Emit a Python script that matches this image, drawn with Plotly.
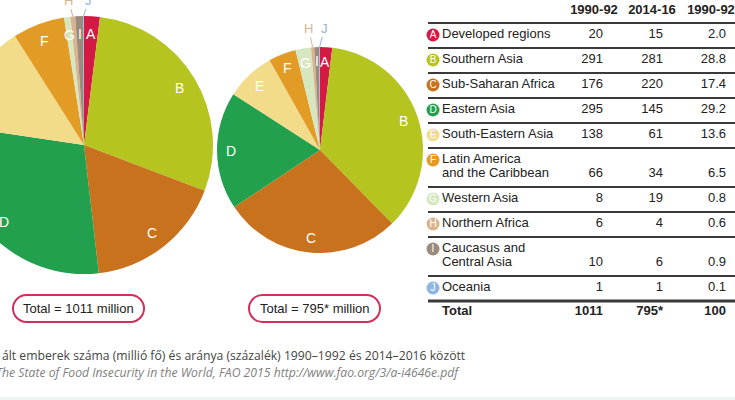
import math
import plotly.graph_objects as go

# data
letters = ['A', 'B', 'C', 'D', 'E', 'F', 'G', 'H', 'I', 'J']
regions = ['Developed regions', 'Southern Asia', 'Sub-Saharan Africa', 'Eastern Asia',
           'South-Eastern Asia', 'Latin America<br>and the Caribbean', 'Western Asia',
           'Northern Africa', 'Caucasus and<br>Central Asia', 'Oceania']
hungry_1990 = [20, 291, 176, 295, 138, 66, 8, 6, 10, 1]
hungry_2014 = [15, 281, 220, 145, 61, 34, 19, 4, 6, 1]
share_1990 = [2.0, 28.8, 17.4, 29.2, 13.6, 6.5, 0.8, 0.6, 0.9, 0.1]
col_headers = ['1990-92', '2014-16', '1990-92']
total_row = ['1011', '795*', '100']
pie_totals = ['Total = 1011 million', 'Total = 795* million']
outside_letters = ['H', 'J']
colors = ['#d31a45', '#b6c41f', '#c8721d', '#23a04e', '#f2dc8a',
          '#e29c26', '#d6e6bf', '#d9b38e', '#9a8b7e', '#8eb6e4']

caption = 'ált emberek száma (millió fő) és aránya (százalék) 1990–1992 és 2014–2016 között'
source = 'The State of Food Insecurity in the World, FAO 2015 http://www.fao.org/3/a-i4646e.pdf'

SHIFT = 50          # left part of the figure is pushed out of the window
W, H = 735 + SHIFT, 400
FONT = 'Liberation Sans, Arial, sans-serif'

fig = go.Figure()

# ---- pies (center x, center y, radius, lift of the outside labels)
pies = [(hungry_1990, 84, 145, 129, -42), (hungry_2014, 320, 150, 103, -19)]
annotations = []
shapes = []
for k, (vals, cx, cy, r, lift) in enumerate(pies):
    fig.add_trace(go.Pie(values=vals, labels=letters, sort=False, direction='clockwise', rotation=0,
                         marker=dict(colors=colors, line=dict(width=0)), textinfo='none',
                         hoverinfo='label+value', showlegend=False,
                         domain=dict(x=[(cx + SHIFT - r) / W, (cx + SHIFT + r) / W],
                                     y=[1 - (cy + r) / H, 1 - (cy - r) / H])))
    tot = sum(vals)
    cum = 0
    for lab, v, c in zip(letters, vals, colors):
        th = 2 * math.pi * (cum + v / 2) / tot
        cum += v
        if lab in outside_letters:
            annotations.append(dict(x=cx + r * math.sin(th), y=cy - r * math.cos(th), xref='x', yref='y',
                                    text=lab, showarrow=True, arrowhead=0, arrowwidth=1, arrowcolor=c,
                                    ax=-4 if lab == 'H' else 5, ay=lift, standoff=0,
                                    font=dict(family=FONT, size=13, color=c)))
        else:
            annotations.append(dict(x=cx + 0.86 * r * math.sin(th), y=cy - 0.86 * r * math.cos(th),
                                    xref='x', yref='y', text=lab, showarrow=False,
                                    font=dict(family=FONT, size=14, color='white')))
    # total box under the pie
    bx0, bx1, by0, by1 = cx - 71, cx + 60, 295, 322
    rr = (by1 - by0) / 2
    kk = 0.5523 * rr
    ym = (by0 + by1) / 2
    path = (f'M {bx0 + rr},{by0} L {bx1 - rr},{by0} '
            f'C {bx1 - rr + kk},{by0} {bx1},{ym - kk} {bx1},{ym} '
            f'C {bx1},{ym + kk} {bx1 - rr + kk},{by1} {bx1 - rr},{by1} '
            f'L {bx0 + rr},{by1} '
            f'C {bx0 + rr - kk},{by1} {bx0},{ym + kk} {bx0},{ym} '
            f'C {bx0},{ym - kk} {bx0 + rr - kk},{by0} {bx0 + rr},{by0} Z')
    shapes.append(dict(type='path', path=path, xref='x', yref='y',
                       line=dict(color='#d0305a', width=2), fillcolor='white'))
    annotations.append(dict(x=(bx0 + bx1) / 2, y=ym, xref='x', yref='y', text=pie_totals[k],
                            showarrow=False, font=dict(family=FONT, size=13, color='#222')))

# ---- table (pixel axis)
col_x = [603, 663, 726]
rule_y = [23]
icon_y, name_y, name_t, num_y = [], [], [], []
y = 23
for name in regions:
    lines = name.split('<br>')
    for j, ln in enumerate(lines):
        name_y.append(y + 12 + 13.5 * j)
        name_t.append(ln)
    icon_y.append(y + 12)
    num_y.append(y + 12 + 13.5 * (len(lines) - 1))
    y += 25 + 14 * (len(lines) - 1)
    rule_y.append(y)

rx, ry = [], []
for yy in rule_y[:-1]:
    rx += [428, 740, None]
    ry += [yy, yy, None]
fig.add_trace(go.Scatter(x=rx, y=ry, mode='lines', line=dict(color='#3a3a3a', width=2),
                         hoverinfo='skip', showlegend=False))
fig.add_trace(go.Scatter(x=[428, 740], y=[rule_y[-1], rule_y[-1]], mode='lines',
                         line=dict(color='#3a3a3a', width=3), hoverinfo='skip', showlegend=False))

fig.add_trace(go.Scatter(x=[433] * len(letters), y=icon_y, mode='markers+text', text=letters,
                         marker=dict(size=13, color=colors), textposition='middle center',
                         textfont=dict(family=FONT, size=10, color='white'),
                         hoverinfo='skip', showlegend=False))
fig.add_trace(go.Scatter(x=[442] * len(name_t), y=name_y, mode='text', text=name_t,
                         textposition='middle right', textfont=dict(family=FONT, size=13, color='#222'),
                         hoverinfo='skip', showlegend=False))

columns = [[str(v) for v in hungry_1990], [str(v) for v in hungry_2014],
           ['{:.1f}'.format(v) for v in share_1990]]
for cx_, col in zip(col_x, columns):
    fig.add_trace(go.Scatter(x=[cx_] * len(col), y=num_y, mode='text', text=col,
                             textposition='middle left',
                             textfont=dict(family=FONT, size=13, color='#222'),
                             hoverinfo='skip', showlegend=False))

total_y = rule_y[-1] + 11
fig.add_trace(go.Scatter(x=col_x, y=[total_y] * 3, mode='text', text=['<b>%s</b>' % t for t in total_row],
                         textposition='middle left', textfont=dict(family=FONT, size=13, color='#222'),
                         hoverinfo='skip', showlegend=False))
fig.add_trace(go.Scatter(x=[442], y=[total_y], mode='text', text=['<b>Total</b>'],
                         textposition='middle right', textfont=dict(family=FONT, size=13, color='#222'),
                         hoverinfo='skip', showlegend=False))
fig.add_trace(go.Scatter(x=[594, 652, 711], y=[11] * 3, mode='text',
                         text=['<b>%s</b>' % h for h in col_headers], textposition='middle center',
                         textfont=dict(family=FONT, size=13, color='#222'),
                         hoverinfo='skip', showlegend=False))

# ---- caption
annotations.append(dict(x=0, y=355, xref='x', yref='y', xanchor='left', text=caption, showarrow=False,
                        font=dict(family='Open Sans', size=12.2, color='#444')))
annotations.append(dict(x=-6, y=372, xref='x', yref='y', xanchor='left', text='<i>%s</i>' % source,
                        showarrow=False, font=dict(family='Open Sans', size=12.2, color='#808080')))
shapes.append(dict(type='rect', xref='x', yref='y', x0=-SHIFT, x1=735, y0=397, y1=401,
                   fillcolor='#eef3f6', line=dict(width=0), layer='below'))

fig.update_layout(width=W, height=H, margin=dict(l=0, r=0, t=0, b=0),
                  paper_bgcolor='white', plot_bgcolor='white', showlegend=False,
                  xaxis=dict(range=[-SHIFT, 735], visible=False, fixedrange=True),
                  yaxis=dict(range=[H, 0], visible=False, fixedrange=True),
                  annotations=annotations, shapes=shapes)

post = ("document.body.style.margin='0';document.body.style.overflow='hidden';"
        "document.getElementById('{plot_id}').style.marginLeft='-%dpx';" % SHIFT)
fig.write_html('out.html', post_script=post, config={'displayModeBar': False})
